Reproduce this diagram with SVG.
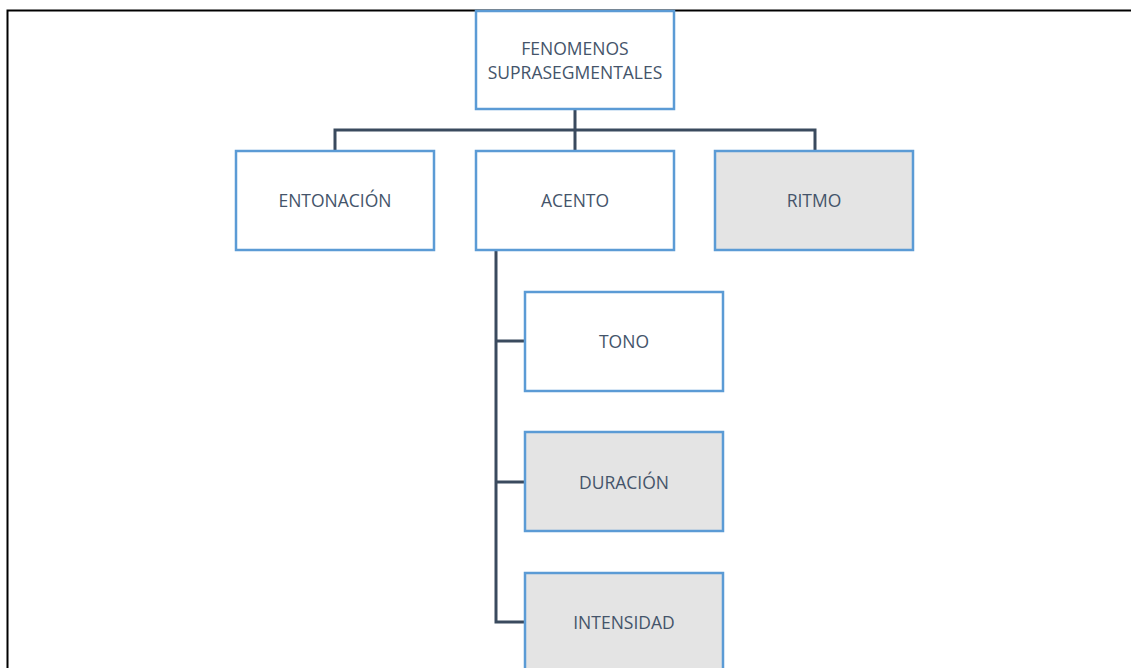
<svg xmlns="http://www.w3.org/2000/svg" width="1131" height="668" viewBox="0 0 1131 668">
<style>
.box{fill:#fff;stroke:#5B9BD5;stroke-width:2.5}
.grey{fill:#E4E4E4}
.lbl{font-family:"Open Sans","Noto Sans",sans-serif;font-size:17.5px;fill:#44546A;text-anchor:middle;dominant-baseline:central}
.conn{fill:none;stroke:#3A4A5E;stroke-width:3}
</style>
<rect width="1131" height="668" fill="#fff"/>
<path d="M7.5,668 V10.5 H1131" fill="none" stroke="#000" stroke-width="2"/>
<g id="connectors">
<path class="conn" d="M575,110 V151 M335,151 V130 H815 V151"/>
<path class="conn" d="M496,250 V622 H525 M496,341 H525 M496,482 H525"/>
</g>
<g id="n-root"><rect class="box" x="476" y="11" width="198" height="98"/><text class="lbl" x="575" y="48">FENOMENOS</text><text class="lbl" x="575" y="72">SUPRASEGMENTALES</text></g>
<g id="n-entonacion"><rect class="box" x="236" y="151" width="198" height="99"/><text class="lbl" x="335" y="200">ENTONACIÓN</text></g>
<g id="n-acento"><rect class="box" x="476" y="151" width="198" height="99"/><text class="lbl" x="575" y="200">ACENTO</text></g>
<g id="n-ritmo"><rect class="box grey" x="715" y="151" width="198" height="99"/><text class="lbl" x="814" y="200">RITMO</text></g>
<g id="n-tono"><rect class="box" x="525" y="292" width="198" height="99"/><text class="lbl" x="624" y="341">TONO</text></g>
<g id="n-duracion"><rect class="box grey" x="525" y="432" width="198" height="99"/><text class="lbl" x="624" y="482">DURACIÓN</text></g>
<g id="n-intensidad"><rect class="box grey" x="525" y="573" width="198" height="99"/><text class="lbl" x="624" y="622">INTENSIDAD</text></g>
</svg>
